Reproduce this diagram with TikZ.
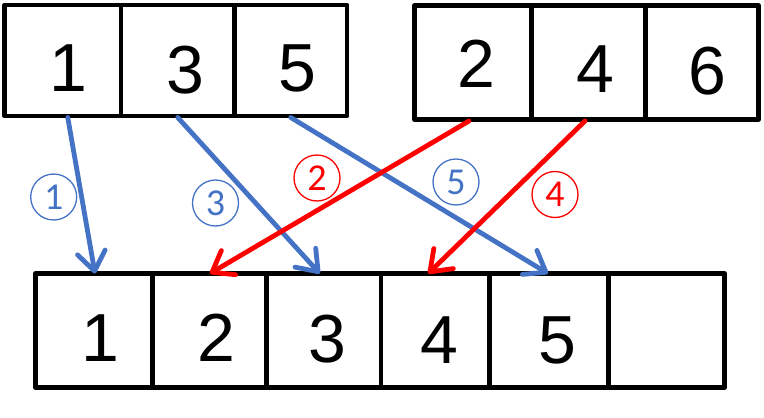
\documentclass[tikz,border=0pt]{standalone}
\usepackage{fontspec}
\setmainfont{Liberation Sans}
\newfontfamily\circfont{Carlito}
\usetikzlibrary{arrows.meta}
\definecolor{myblue}{HTML}{4472C4}
\definecolor{myred}{HTML}{FF0000}
\tikzset{
  cell/.style={draw=black, line width=4.7pt, line join=round, rectangle, inner sep=0pt, outer sep=0pt},
  digit/.style={font=\fontsize{68}{80}\selectfont, inner sep=0pt},
  conn/.style={line width=4.8pt, line cap=round, -{Straight Barb[length=19pt,width=28pt,line cap=round,line join=round]}},
  circlab/.style={circle, draw, line width=1.3pt, minimum size=46pt, inner sep=0pt, font=\circfont\fontsize{38}{40}\selectfont},
}
\begin{document}
\begin{tikzpicture}[x=1pt,y=-1pt]
\useasboundingbox (0,0) rectangle (764,418);
% top-left array
\node[cell, minimum width=116.5pt, minimum height=111pt] (t1) at (62.75,60.5) {};
\node[cell, minimum width=113.5pt, minimum height=111pt] (t3) at (177.75,60.5) {};
\node[cell, minimum width=112.5pt, minimum height=111pt] (t5) at (290.75,60.5) {};
% top-right array
\node[cell, minimum width=117pt, minimum height=114pt] (t2) at (473,62.5) {};
\node[cell, minimum width=114pt, minimum height=114pt] (t4) at (588.5,62.5) {};
\node[cell, minimum width=113pt, minimum height=114pt] (t6) at (702,62.5) {};
% bottom array
\node[cell, minimum width=117pt, minimum height=114pt] (b1) at (94,330.5) {};
\node[cell, minimum width=114pt, minimum height=114pt] (b2) at (209.5,330.5) {};
\node[cell, minimum width=114.5pt, minimum height=114pt] (b3) at (323.75,330.5) {};
\node[cell, minimum width=108.5pt, minimum height=114pt] (b4) at (435.25,330.5) {};
\node[cell, minimum width=119pt, minimum height=114pt] (b5) at (549,330.5) {};
\node[cell, minimum width=116pt, minimum height=114pt] (b6) at (666.5,330.5) {};
% digits
\node[digit] (d1) at (68.7,68.5) {1};
\node[digit] (d3) at (185,70) {3};
\node[digit] (d5) at (297,68) {5};
\node[digit] (d2) at (476,64) {2};
\node[digit] (d4) at (595,69) {4};
\node[digit] (d6) at (707,71) {6};
\node[digit] (e1) at (100.5,338.3) {1};
\node[digit] (e2) at (216.7,338) {2};
\node[digit] (e3) at (327.5,339.5) {3};
\node[digit] (e4) at (439,340) {4};
\node[digit] (e5) at (557,340.5) {5};
% connectors
\draw[conn, myblue] ([xshift=5pt,yshift=-1.5pt]t1.south) -- ([xshift=1pt]b1.north);
\draw[conn, myblue] ([yshift=-1.5pt]t3.south) -- ([xshift=-4pt]b3.north);
\draw[conn, myblue] ([yshift=-1.5pt]t5.south) -- ([xshift=-1pt]b5.north);
\draw[conn, myred] ([xshift=-4pt,yshift=-1.5pt]t2.south) -- ([xshift=0.5pt]b2.north);
\draw[conn, myred] ([xshift=-3.5pt,yshift=-1.5pt]t4.south) -- ([xshift=-7pt]b4.north);
% step labels
\node[circlab, draw=myblue, text=myblue] (c1) at (53.7,197) {1};
\node[circlab, draw=myblue, text=myblue] (c3) at (215.5,203) {3};
\node[circlab, draw=myblue, text=myblue] (c5) at (456,182) {5};
\node[circlab, draw=myred, text=myred] (c2) at (317,178) {2};
\node[circlab, draw=myred, text=myred] (c4) at (555,194.5) {4};
\end{tikzpicture}
\end{document}
